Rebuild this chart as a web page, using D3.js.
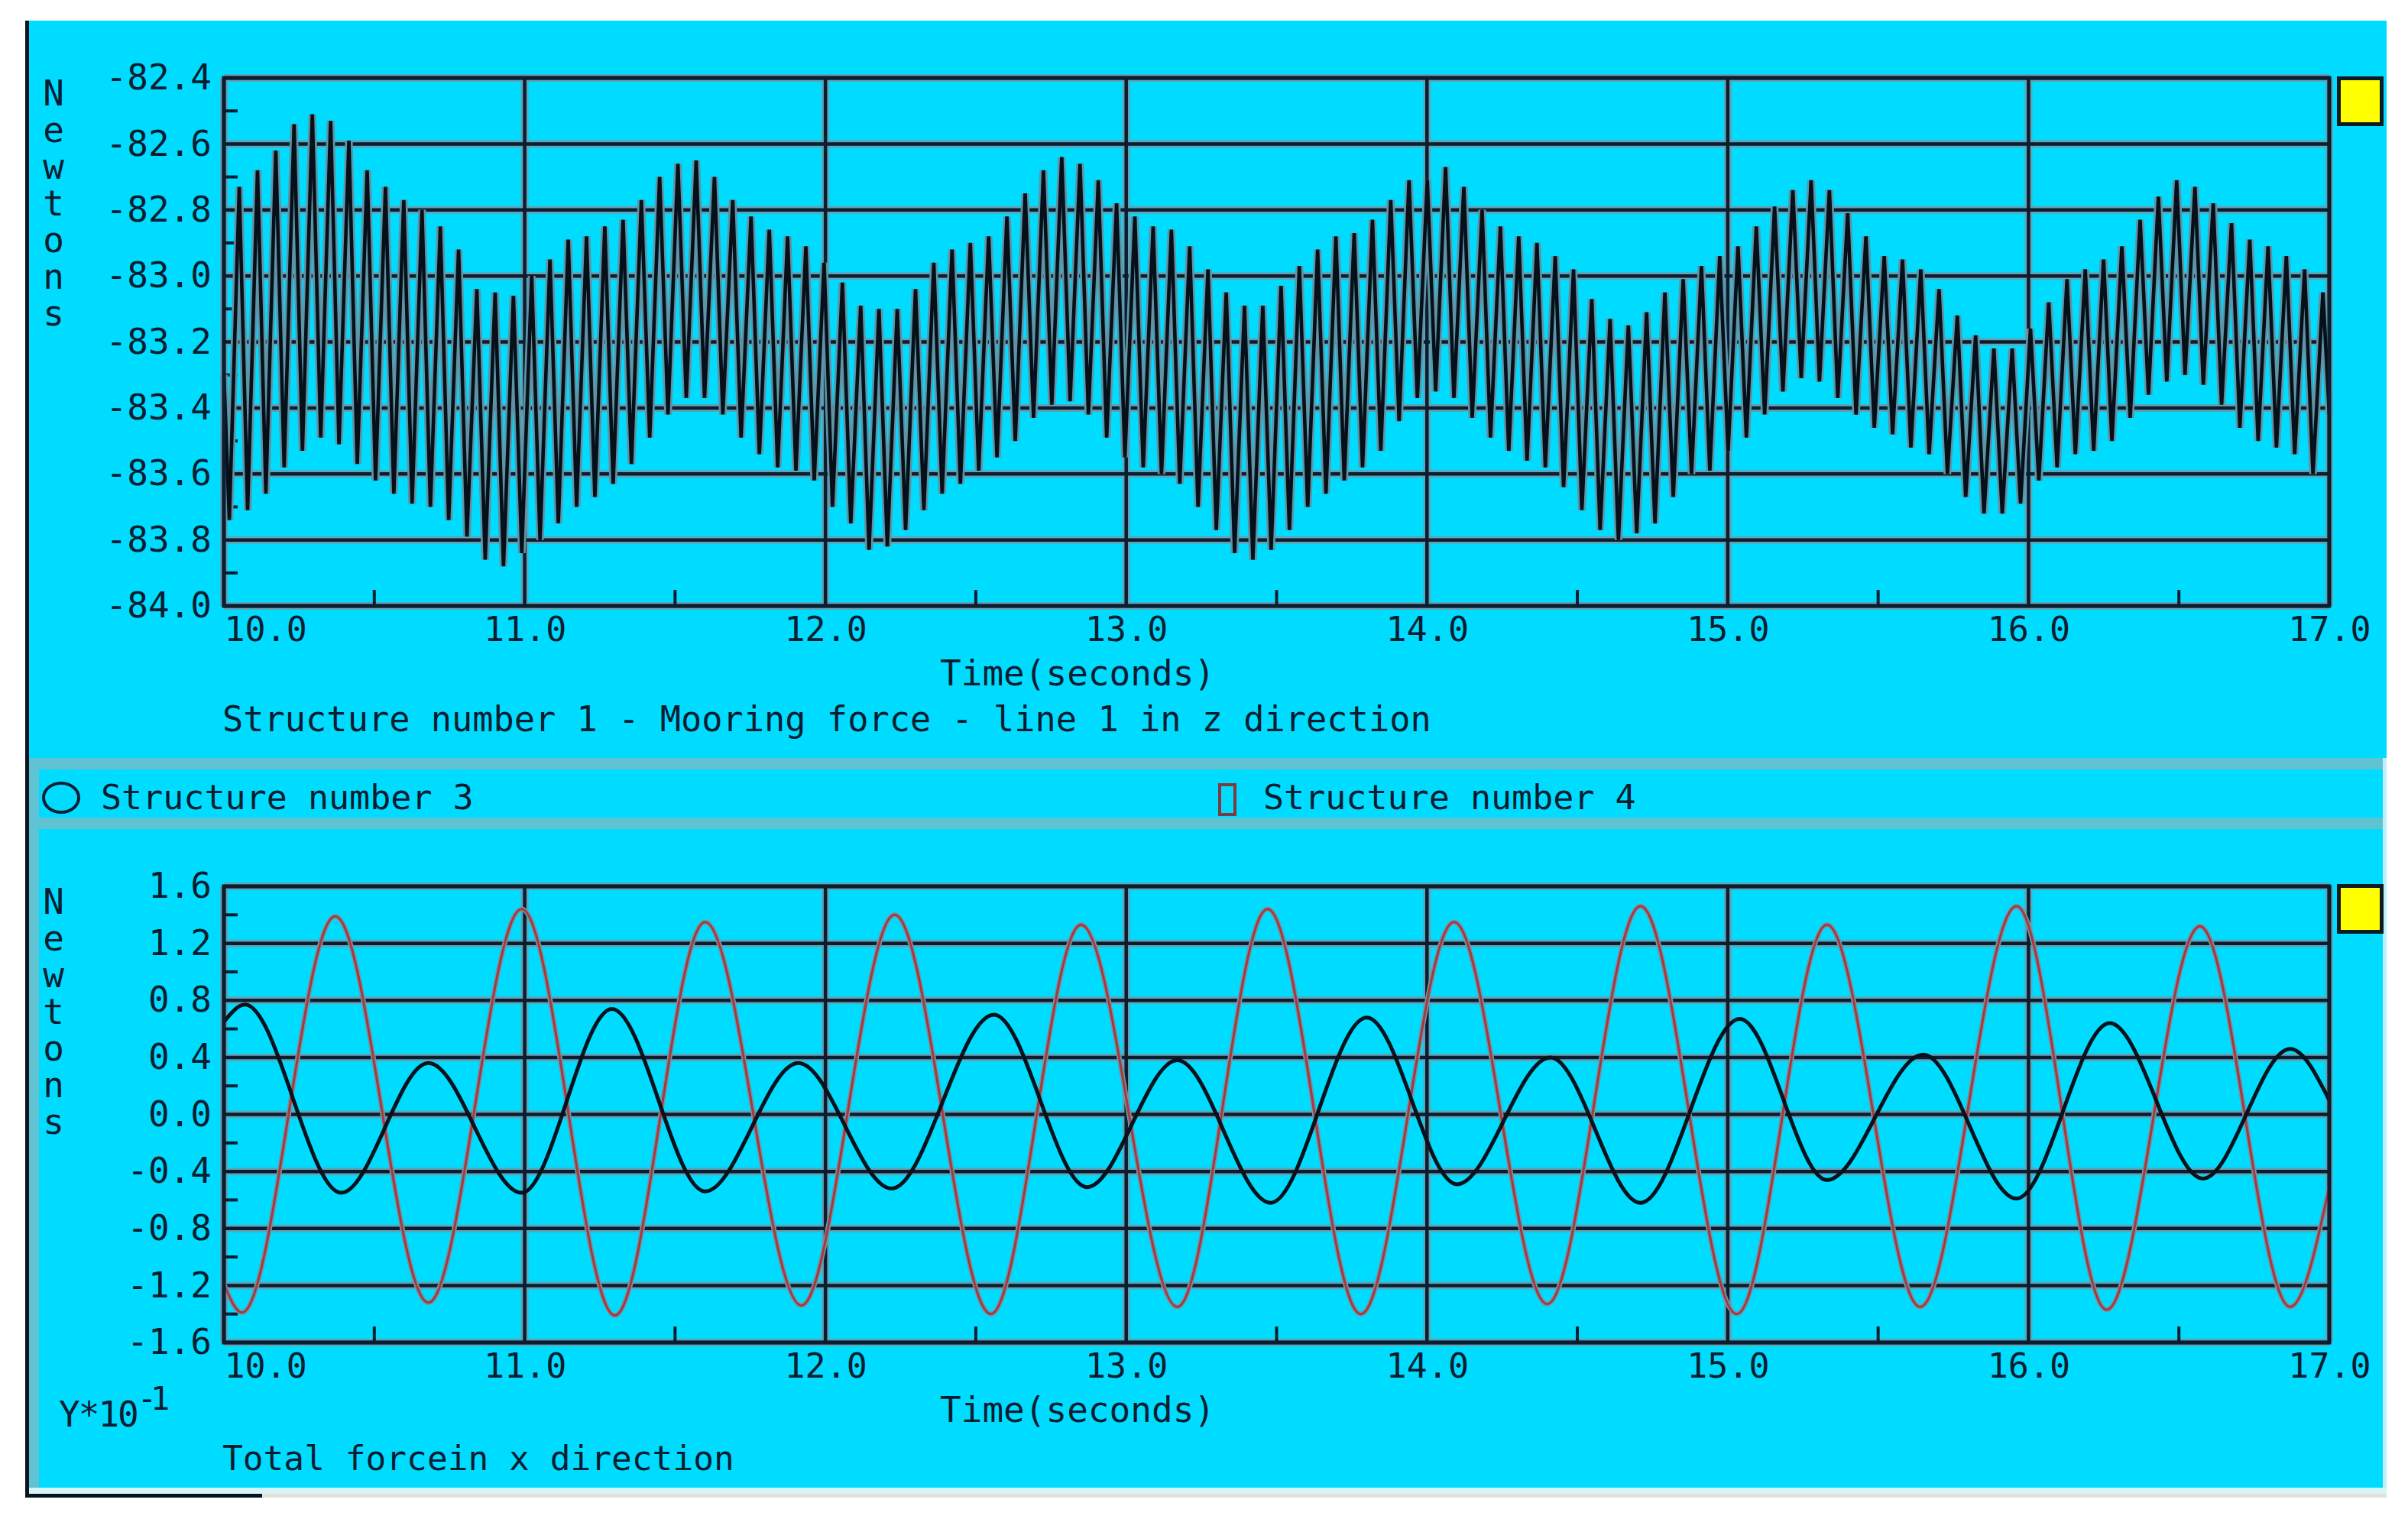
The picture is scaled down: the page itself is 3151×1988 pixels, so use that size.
<!DOCTYPE html>
<html>
<head>
<meta charset="utf-8">
<script src="https://cdn.jsdelivr.net/npm/d3@7"></script>
<style>
  body { margin: 0; background: #ffffff; }
  svg { display: block; }
  text { font-family: "DejaVu Sans Mono", monospace; fill: #0b1d30; }
</style>
</head>
<body>
<script>
// ---- data ----
const timeTicks = [10, 11, 12, 13, 14, 15, 16, 17];
const timeLabels = ["10.0", "11.0", "12.0", "13.0", "14.0", "15.0", "16.0", "17.0"];
const timeMinor = [10.5, 11.5, 12.5, 13.5, 14.5, 15.5, 16.5];

const mooringTicks = [-84.0, -83.8, -83.6, -83.4, -83.2, -83.0, -82.8, -82.6, -82.4];
const mooringLabels = ["-84.0", "-83.8", "-83.6", "-83.4", "-83.2", "-83.0", "-82.8", "-82.6", "-82.4"];

const forceTicks = [-1.6, -1.2, -0.8, -0.4, 0.0, 0.4, 0.8, 1.2, 1.6];
const forceLabels = ["-1.6", "-1.2", "-0.8", "-0.4", "0.0", "0.4", "0.8", "1.2", "1.6"];

// mooring force (line 1, z): fast oscillation, troughs and peaks in turn
const mooringFirst = [10.0, -83.30];
const mooringLast = [17.0, -83.42];
const mooringTroughT0 = 10.018, mooringPeakT0 = 10.051, mooringStep = 0.06077;
const mooringPeaks = [
  -82.73, -82.68, -82.62, -82.54, -82.51, -82.53, -82.59, -82.68, -82.73, -82.77,
  -82.80, -82.85, -82.92, -83.04, -83.05, -83.06, -83.00, -82.95, -82.89, -82.88,
  -82.85, -82.83, -82.77, -82.70, -82.66, -82.65, -82.70, -82.77, -82.82,
  -82.86, -82.88, -82.91, -82.96, -83.02, -83.09, -83.10, -83.10, -83.04, -82.96,
  -82.92, -82.90, -82.88, -82.82, -82.75, -82.68, -82.64, -82.66, -82.71, -82.78,
  -82.82, -82.85, -82.86, -82.91, -82.98, -83.05, -83.09, -83.09, -83.03,
  -82.97, -82.92, -82.88, -82.87, -82.83, -82.77, -82.71, -82.71, -82.67, -82.73,
  -82.80, -82.85, -82.88, -82.90, -82.94, -82.98, -83.07, -83.13, -83.15, -83.11,
  -83.05, -83.01, -82.97, -82.94, -82.91, -82.85, -82.79, -82.74, -82.71,
  -82.74, -82.81, -82.88, -82.94, -82.95, -82.98, -83.04, -83.12, -83.18, -83.22,
  -83.22, -83.16, -83.08, -83.01, -82.98, -82.95, -82.91, -82.83, -82.76, -82.71,
  -82.73, -82.78, -82.84, -82.89, -82.91, -82.94, -82.98, -83.05
];
const mooringTroughs = [
  -83.74, -83.71, -83.66, -83.58, -83.53, -83.49, -83.51, -83.57, -83.62, -83.66,
  -83.69, -83.70, -83.74, -83.79, -83.86, -83.88, -83.84, -83.80, -83.75, -83.70,
  -83.67, -83.63, -83.57, -83.49, -83.42, -83.37, -83.37, -83.42, -83.49,
  -83.54, -83.58, -83.59, -83.62, -83.70, -83.75, -83.83, -83.82, -83.77, -83.71,
  -83.66, -83.63, -83.59, -83.55, -83.50, -83.43, -83.39, -83.38, -83.42, -83.49,
  -83.55, -83.58, -83.60, -83.63, -83.70, -83.77, -83.84, -83.86, -83.83,
  -83.77, -83.70, -83.66, -83.62, -83.58, -83.53, -83.44, -83.37, -83.35, -83.37,
  -83.43, -83.49, -83.53, -83.56, -83.58, -83.64, -83.71, -83.77, -83.80, -83.78,
  -83.75, -83.67, -83.60, -83.59, -83.53, -83.49, -83.42, -83.35, -83.31,
  -83.32, -83.37, -83.42, -83.46, -83.48, -83.52, -83.54, -83.60, -83.67, -83.72,
  -83.72, -83.69, -83.62, -83.58, -83.54, -83.53, -83.50, -83.43, -83.36, -83.32,
  -83.30, -83.33, -83.39, -83.46, -83.50, -83.52, -83.54, -83.60
];

// total force in x (Y*10^-1): peaks and troughs of each structure
const struct3T = [10.00, 10.07, 10.39, 10.68, 10.99, 11.29, 11.60, 11.91, 12.22, 12.56, 12.87, 13.17, 13.48,
                  13.80, 14.10, 14.41, 14.71, 15.04, 15.33, 15.65, 15.96, 16.27, 16.58, 16.87, 17.00];
const struct3V = [0.65, 0.77, -0.55, 0.36, -0.55, 0.74, -0.54, 0.36, -0.52, 0.70, -0.51, 0.38, -0.62,
                  0.68, -0.49, 0.40, -0.62, 0.67, -0.46, 0.42, -0.59, 0.64, -0.45, 0.46, 0.10];
const struct4T = [10.00, 10.06, 10.37, 10.68, 10.99, 11.30, 11.60, 11.92, 12.23, 12.55, 12.85, 13.17, 13.47,
                  13.78, 14.09, 14.40, 14.71, 15.03, 15.33, 15.64, 15.96, 16.26, 16.57, 16.87, 17.00];
const struct4V = [-1.19, -1.39, 1.39, -1.32, 1.44, -1.41, 1.35, -1.34, 1.40, -1.40, 1.33, -1.35, 1.44,
                  -1.40, 1.35, -1.33, 1.46, -1.40, 1.33, -1.35, 1.46, -1.37, 1.32, -1.35, -0.51];

// ---- page ----
const W = 3151, H = 1988;
const ink = "#0b1d30", halo = "#5fa3b5", cyan = "#00dcff", band = "#5fc3d4";

const svg = d3.select("body").append("svg").attr("width", W).attr("height", H);

// panel background
svg.append("rect").attr("x", 36).attr("y", 27).attr("width", 3087).attr("height", 1921).attr("fill", cyan);
svg.append("rect").attr("x", 38).attr("y", 992).attr("width", 3085).attr("height", 15).attr("fill", band);
svg.append("rect").attr("x", 38).attr("y", 1070).attr("width", 3085).attr("height", 15).attr("fill", band);
svg.append("rect").attr("x", 38).attr("y", 992).attr("width", 13).attr("height", 956).attr("fill", band);
svg.append("rect").attr("x", 3118).attr("y", 992).attr("width", 5).attr("height", 956).attr("fill", "#bfeef8");
svg.append("rect").attr("x", 38).attr("y", 1947).attr("width", 3085).attr("height", 8).attr("fill", "#d6f5fb");
svg.append("rect").attr("x", 343).attr("y", 1955).attr("width", 2780).attr("height", 5).attr("fill", "#e4e2d8");
svg.append("rect").attr("x", 33).attr("y", 1955).attr("width", 310).attr("height", 5).attr("fill", "#0a1420");
svg.append("rect").attr("x", 33).attr("y", 27).attr("width", 5).attr("height", 1933).attr("fill", "#0a1420");

const x = d3.scaleLinear().domain([10, 17]).range([293, 3048]);
const yTop = d3.scaleLinear().domain([-84, -82.4]).range([793, 102]);
const yBot = d3.scaleLinear().domain([-1.6, 1.6]).range([1757, 1160]);

function drawFrame(y, ticks, labels) {
  const g = svg.append("g");
  const [yb, yt] = y.range();
  const minorY = d3.pairs(ticks).map(p => (p[0] + p[1]) / 2);

  // grid with light halo
  [[halo, 10], [ink, 4.5]].forEach(([c, w]) => {
    g.append("g").selectAll("line").data(ticks).join("line")
      .attr("x1", x(10)).attr("x2", x(17))
      .attr("y1", d => y(d)).attr("y2", d => y(d))
      .attr("stroke", c).attr("stroke-width", w);
    g.append("g").selectAll("line").data(timeTicks).join("line")
      .attr("x1", d => x(d)).attr("x2", d => x(d))
      .attr("y1", yt).attr("y2", yb)
      .attr("stroke", c).attr("stroke-width", w);
  });

  // minor ticks
  g.append("g").selectAll("line").data(minorY).join("line")
    .attr("x1", x(10)).attr("x2", x(10) + 18)
    .attr("y1", d => y(d)).attr("y2", d => y(d))
    .attr("stroke", ink).attr("stroke-width", 4);
  g.append("g").selectAll("line").data(timeMinor).join("line")
    .attr("x1", d => x(d)).attr("x2", d => x(d))
    .attr("y1", yb).attr("y2", yb - 21)
    .attr("stroke", ink).attr("stroke-width", 4);

  // axes labels
  const ya = svg.append("g").attr("transform", `translate(${x(10)},0)`)
    .call(d3.axisLeft(y).tickValues(ticks).tickFormat((d, i) => labels[i]).tickSize(0).tickPadding(16));
  ya.select(".domain").remove();
  ya.selectAll("text").attr("font-size", 46).attr("font-family", "DejaVu Sans Mono").attr("fill", ink);

  const xa = svg.append("g").attr("transform", `translate(0,${yb})`)
    .call(d3.axisBottom(x).tickValues(timeTicks).tickFormat((d, i) => timeLabels[i]).tickSize(0).tickPadding(14));
  xa.select(".domain").remove();
  xa.selectAll("text").attr("font-size", 45).attr("font-family", "DejaVu Sans Mono").attr("fill", ink);
  xa.selectAll("text").filter((d, i) => i === 0).attr("text-anchor", "start");
  return g;
}

function drawBorder(y) {
  const [yb, yt] = y.range();
  svg.append("rect").attr("x", x(10)).attr("y", yt).attr("width", x(17) - x(10)).attr("height", yb - yt)
    .attr("fill", "none").attr("stroke", ink).attr("stroke-width", 5);
}

function newtons(top) {
  const g = svg.append("g").attr("font-size", 46);
  "Newtons".split("").forEach((c, i) => {
    g.append("text").attr("x", 70).attr("y", top + 36 + i * 48).attr("text-anchor", "middle").text(c);
  });
}

function yellowBox(top) {
  svg.append("rect").attr("x", 3060.5).attr("y", top).attr("width", 56).attr("height", 60)
    .attr("fill", "#ffff00").attr("stroke", "#0d1a22").attr("stroke-width", 5);
}

// ---- top chart ----
drawFrame(yTop, mooringTicks, mooringLabels);

const mooring = [mooringFirst];
mooringPeaks.forEach((p, i) => {
  mooring.push([mooringTroughT0 + i * mooringStep, mooringTroughs[i]]);
  mooring.push([mooringPeakT0 + i * mooringStep, p]);
});
mooring.push(mooringLast);

const lineTop = d3.line().x(d => x(d[0])).y(d => yTop(d[1]));
svg.append("path").attr("d", lineTop(mooring)).attr("fill", "none")
  .attr("stroke", "#5f93a4").attr("stroke-width", 10).attr("stroke-linejoin", "bevel");
svg.append("path").attr("d", lineTop(mooring)).attr("fill", "none")
  .attr("stroke", "#06101a").attr("stroke-width", 4.6).attr("stroke-linejoin", "bevel");

drawBorder(yTop);
newtons(102);
yellowBox(102.5);

svg.append("text").attr("x", 1230).attr("y", 897).attr("font-size", 46).text("Time(seconds)");
svg.append("text").attr("x", 291).attr("y", 957).attr("font-size", 45.3)
  .text("Structure number 1 - Mooring force - line 1 in z direction");

// ---- legend ----
svg.append("ellipse").attr("cx", 80).attr("cy", 1044).attr("rx", 23).attr("ry", 19)
  .attr("fill", "none").attr("stroke", ink).attr("stroke-width", 4);
svg.append("text").attr("x", 132).attr("y", 1059).attr("font-size", 45).text("Structure number 3");
svg.append("rect").attr("x", 1596).attr("y", 1027).attr("width", 20).attr("height", 39)
  .attr("fill", "none").attr("stroke", "#7e3a3e").attr("stroke-width", 4);
svg.append("text").attr("x", 1653).attr("y", 1059).attr("font-size", 45).text("Structure number 4");

// ---- bottom chart ----
drawFrame(yBot, forceTicks, forceLabels);

const lineBot = d3.line().x(d => x(d[0])).y(d => yBot(d[1])).curve(d3.curveMonotoneX);
const s4 = struct4T.map((t, i) => [t, struct4V[i]]);
const s3 = struct3T.map((t, i) => [t, struct3V[i]]);

svg.append("path").attr("d", lineBot(s4)).attr("fill", "none")
  .attr("stroke", "#6f95a5").attr("stroke-width", 6.5);
svg.append("path").attr("d", lineBot(s4)).attr("fill", "none")
  .attr("stroke", "#a8383e").attr("stroke-width", 3);
svg.append("path").attr("d", lineBot(s3)).attr("fill", "none")
  .attr("stroke", "#07121c").attr("stroke-width", 5);

drawBorder(yBot);
newtons(1160);
yellowBox(1159.5);

svg.append("text").attr("x", 1230).attr("y", 1861).attr("font-size", 46).text("Time(seconds)");
const yx = svg.append("text").attr("x", 77).attr("y", 1867).attr("font-size", 46).attr("letter-spacing", -2);
yx.append("tspan").text("Y*10");
yx.append("tspan").attr("dy", -22).attr("font-size", 42).attr("letter-spacing", -8).text("-1");
svg.append("text").attr("x", 291).attr("y", 1924).attr("font-size", 44.5).text("Total forcein x direction");
</script>
</body>
</html>
